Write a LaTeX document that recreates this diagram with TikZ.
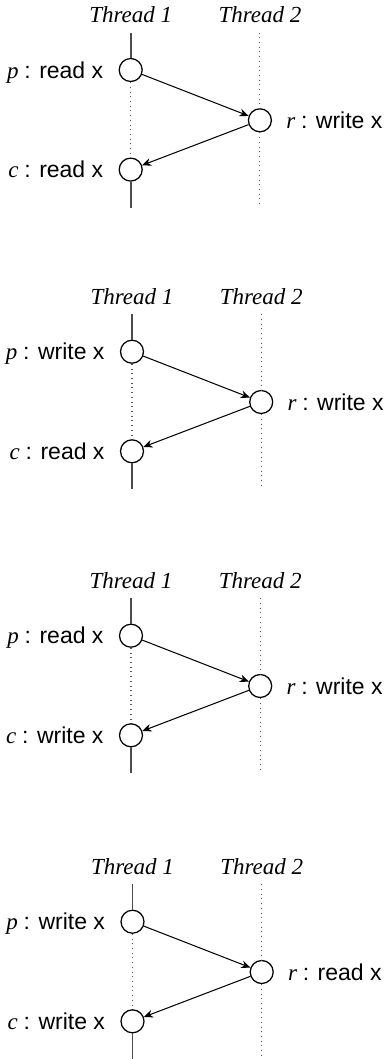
\documentclass[tikz,border=0pt]{standalone}
\usepackage{fontspec}
\setmainfont{Liberation Serif}
\setsansfont{Liberation Sans}
\usetikzlibrary{positioning,arrows.meta}
\tikzset{event/.style={circle,draw,line width=0.55pt,minimum size=10pt,inner sep=0pt},
  busy/.style={draw=black!70,line width=0.8pt},
  idle/.style={draw=black!65,line width=0.45pt,dash pattern=on 0.45pt off 1.6pt},
  order/.style={-{Stealth[length=4pt,width=3.4pt,inset=1.3pt]},line width=0.45pt},
  oplabel/.style={inner sep=0pt}}

\begin{document}
\begin{tikzpicture}[x=0.435pt,y=-0.435pt]
\useasboundingbox (0,0) rectangle (385,1059);
\foreach \i/\px/\py/\pop/\rop/\cop in {1/130.7/70/read/write/read,2/132/351.7/write/write/read,3/131/635.7/read/write/write,4/132.5/921.7/write/read/write}{
\begin{scope}[shift={(\px,\py)}]
% events
\node[event] (p\i) at (0,0) {};
\node[event] (r\i) at (129.2,50.3) {};
\node[event] (c\i) at (0,99.6) {};
% thread names and ends
\node[anchor=base] (ta\i) at (0,-47.5) {\textit{Thread 1}};
\node[anchor=base] (tb\i) at (129.2,-47.5) {\textit{Thread 2}};
\coordinate (ua\i) at (0,-37.4);
\coordinate (da\i) at (0,137.5);
\coordinate (ub\i) at (129.2,-37.4);
\coordinate (db\i) at (129.2,137.5);
% labels
\node[oplabel,anchor=base east] (pl\i) at ([xshift=-6.5pt,yshift=-3.6pt]p\i.west) {\textit{p} \textsf{: \pop\ x}};
\node[oplabel,anchor=base west] (rl\i) at ([xshift=6pt,yshift=-3.6pt]r\i.east) {\textit{r} \textsf{: \rop\ x}};
\node[oplabel,anchor=base east] (cl\i) at ([xshift=-6.5pt,yshift=-3.6pt]c\i.west) {\textit{c} \textsf{: \cop\ x}};
% lines
\draw[busy] (ua\i) -- (p\i);
\draw[idle] (p\i) -- (c\i);
\draw[busy] (c\i) -- (da\i);
\draw[idle] (ub\i) -- (r\i);
\draw[idle] (r\i) -- (db\i);
\draw[order] (p\i) -- (r\i);
\draw[order] (r\i) -- (c\i);
\end{scope}
}
\end{tikzpicture}
\end{document}
